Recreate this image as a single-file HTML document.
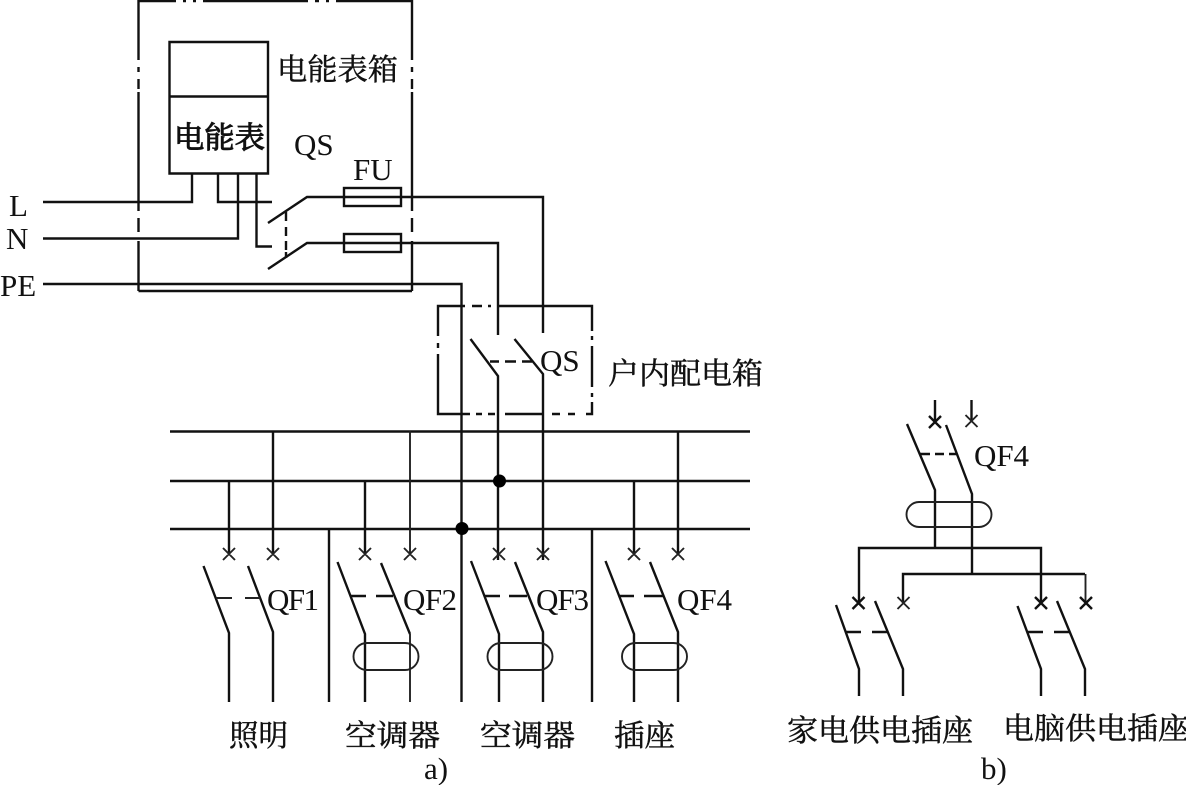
<!DOCTYPE html>
<html><head><meta charset="utf-8"><style>
html,body{margin:0;padding:0;background:#fff;width:1186px;height:785px;overflow:hidden}
svg{display:block}
.l{fill:none;stroke:#111;stroke-width:2.4}
.t{fill:none;stroke:#222;stroke-width:1.9}
text{fill:#111}
.c{font-family:"Liberation Serif","Noto Serif CJK SC",serif;font-size:30px;stroke:#111;stroke-width:.45}
.e{font-family:"Liberation Serif",serif;font-size:31px}
</style></head><body>
<svg width="1186" height="785" viewBox="0 0 1186 785" xmlns="http://www.w3.org/2000/svg">
<!-- outer box -->
<path class="l" d="M138.5 291H412M138.5 1H176M183 1H186M193 1H196M203 1H308M315 1H319M326 1H329M336 1H412M138.5 0V60M138.5 67V72M138.5 79V89M138.5 92V211M138.5 218V232M138.5 241V291M412 0V60M412 67V72M412 79V89M412 92V211M412 218V232M412 241V291"/>
<!-- meter -->
<path class="l" d="M169.5 42H268V173.500H169.5ZM169.500 96.500H268"/>
<path class="l" d="M43 202H192V173M218 173V202H272M43 238.500H238V173"/>
<path class="l" d="M256.500 173V246.500H272"/>
<path class="l" d="M268 223L307 197H543V333M268 269L307 243H498V335"/>
<path class="l" d="M286 212V221M286 227V236M286 241V250M286 252V258"/>
<rect class="l" x="344" y="188" width="57" height="18"/>
<rect class="l" x="344" y="234" width="57" height="18"/>
<path class="l" d="M43 284H461.500V702"/>
<!-- box 2 -->
<path class="l" d="M462 306H465M472 306H482M488 306H491M498 306H592V331M592 336V340M592 346V387M592 393V397M592 402V414H586M575 414H568M560 414H552M543 414H505M495 414H488M482 414H476M470 414H438V354M438 348V343M438 336V306H462"/>
<path class="l" d="M470.500 339L498 376V560M514.500 339L543 374V560M490 361.500H499M505 361.500H516M522 361.500H532"/>
<!-- bus -->
<path class="l" d="M170 431.500H750M170 481H750M170 529H750"/>
<circle cx="499.500" cy="481" r="6.500" fill="#000"/>
<circle cx="462" cy="528.500" r="6.500" fill="#000"/>
<!-- a feeders -->
<path class="l" d="M229 481V554M273 431V554M365 481V554M634 481V554M678 431V554"/>
<path class="t" stroke-width="1.4" d="M410 431V554"/>
<path class="l" d="M329 529V702M592 529V702"/>
<!-- X marks -->
<path class="t" d="M223 548L235 560M235 548L223 560M267 548L279 560M279 548L267 560M359 548L371 560M371 548L359 560M404 548L416 560M416 548L404 560M493 548L505 560M505 548L493 560M537 548L549 560M549 548L537 560M628 548L640 560M640 548L628 560M672 548L684 560M684 548L672 560"/>
<!-- QF1 -->
<path class="l" d="M203.500 566L229 633V702M248 566L273 632V702"/>
<path class="t" d="M216 598H232M245 598H260"/>
<!-- QF2 -->
<path class="l" d="M337.500 562L365 634V702M381 563L410 634"/>
<path class="t" d="M410 634V702"/>
<path class="l" d="M351 596H366M376 596H393"/>
<rect class="t" x="353.500" y="643" width="65" height="27" rx="13.500"/>
<!-- QF3 -->
<path class="l" d="M471 561L499 634V702M515 562L543 632V702"/>
<path class="l" d="M485 596H500M509 596H527"/>
<rect class="t" x="487.500" y="643" width="65" height="27" rx="13.500"/>
<!-- QF4 -->
<path class="l" d="M605.500 561L634 634V702M650 562L678 632V702"/>
<path class="l" d="M619 596H634M644 596H664"/>
<rect class="t" x="622" y="643" width="65" height="27" rx="13.500"/>
<!-- b -->
<path class="l" d="M935 400V422M971.500 400V422"/>
<path class="l" d="M929 416L941 428M941 416L929 428"/>
<path class="t" d="M965.500 415L977.500 427M977.500 415L965.500 427"/>
<path class="l" d="M907 424L935 490V548M946 425L972 494V574"/>
<path class="l" d="M920 454H930M935 454H944M949 454H957"/>
<rect class="t" x="906.500" y="502" width="85" height="25" rx="12.500"/>
<path class="l" d="M859 603V548H1041V603M903 603V574H1085"/>
<path class="t" d="M1085.500 574V603"/>
<path class="l" d="M852.500 597L864.500 609M864.500 597L852.500 609M1035 597L1047 609M1047 597L1035 609M1080 597L1092 609M1092 597L1080 609"/>
<path class="t" d="M897.500 597L909.500 609M909.500 597L897.500 609"/>
<path class="l" d="M836 605L859 669V696M875 601L903 669V696M1017.500 606L1041 669V696M1057 601L1085 669V696"/>
<path class="l" d="M845 632H861M872 632H888M1027 632H1043M1054 632H1070"/>
<!-- CJK labels -->
<text class="c" x="277" y="80" textLength="121" lengthAdjust="spacingAndGlyphs">电能表箱</text>
<text class="c" x="174" y="148" textLength="91" lengthAdjust="spacingAndGlyphs" style="stroke-width:1">电能表</text>
<text class="c" x="608" y="384" textLength="155" lengthAdjust="spacingAndGlyphs">户内配电箱</text>
<text class="c" x="229" y="746" textLength="59" lengthAdjust="spacingAndGlyphs">照明</text>
<text class="c" x="345" y="746" textLength="95" lengthAdjust="spacingAndGlyphs">空调器</text>
<text class="c" x="480" y="746" textLength="95" lengthAdjust="spacingAndGlyphs">空调器</text>
<text class="c" x="614" y="746" textLength="61" lengthAdjust="spacingAndGlyphs">插座</text>
<text class="c" x="787" y="741" textLength="186" lengthAdjust="spacingAndGlyphs">家电供电插座</text>
<text class="c" x="1003" y="739" textLength="186" lengthAdjust="spacingAndGlyphs">电脑供电插座</text>
<!-- Latin labels -->
<text class="e" x="9" y="216">L</text>
<text class="e" x="6" y="249">N</text>
<text class="e" x="0" y="296">PE</text>
<text class="e" x="294" y="155">QS</text>
<text class="e" x="353" y="180">FU</text>
<text class="e" x="540" y="371">QS</text>
<text class="e" x="267" y="610" textLength="52">QF1</text>
<text class="e" x="403" y="610" textLength="54">QF2</text>
<text class="e" x="536" y="610" textLength="53">QF3</text>
<text class="e" x="677" y="610" textLength="55">QF4</text>
<text class="e" x="974" y="466" textLength="55">QF4</text>
<text class="e" x="424" y="779">a)</text>
<text class="e" x="981" y="779">b)</text>
</svg>
</body></html>
